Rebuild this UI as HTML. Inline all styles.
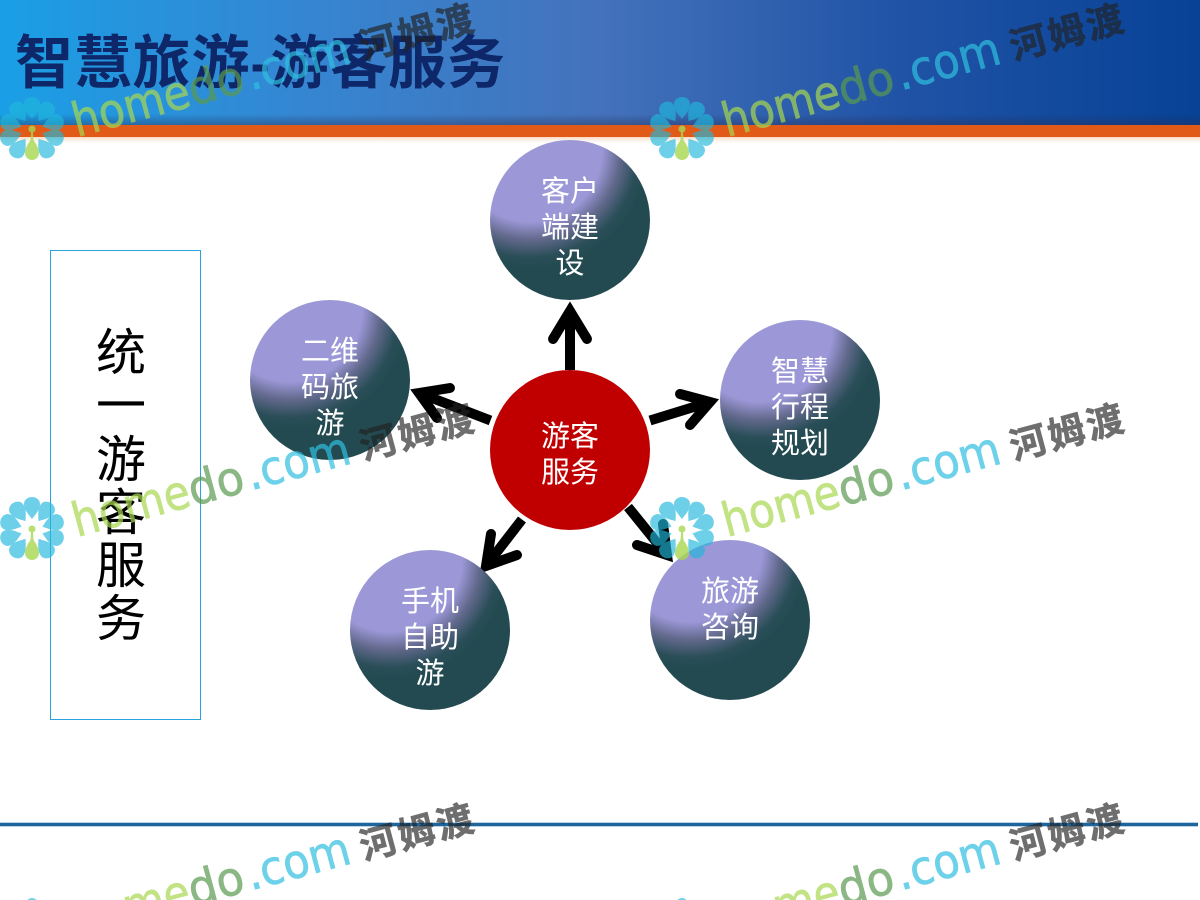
<!DOCTYPE html>
<html lang="zh"><head><meta charset="utf-8"><title>智慧旅游-游客服务</title>
<style>html,body{margin:0;padding:0;background:#fff;width:1200px;height:900px;overflow:hidden}svg{display:block}
text{font-family:"Liberation Sans","Noto Sans CJK SC",sans-serif}
.n{fill:#fff;font-size:29px;text-anchor:middle}
.v{fill:#000;font-size:50px;text-anchor:middle}
.w{font-size:47px;font-family:"DejaVu Sans",sans-serif;stroke-width:.8}
.h{fill:#a8d850;stroke:#a8d850;opacity:.7}.d{fill:#5a9a50;stroke:#5a9a50;opacity:.7}.c{fill:#30c0e0;stroke:#30c0e0;opacity:.7}
.z{fill:#222;stroke:#222;stroke-width:.6;opacity:.65;font-weight:700;font-size:37px}
</style></head><body>
<svg xmlns="http://www.w3.org/2000/svg" width="1200" height="900" viewBox="0 0 1200 900">
<defs>
<linearGradient id="hd" x1="0" x2="1" y1="0" y2="0"><stop offset="0" stop-color="#1a9fe6"/><stop offset=".25" stop-color="#3586d2"/><stop offset=".5" stop-color="#4472bb"/><stop offset=".75" stop-color="#2053a6"/><stop offset="1" stop-color="#074296"/></linearGradient>
<linearGradient id="hs" x1="0" x2="0" y1="0" y2="1"><stop offset="0" stop-color="#1a2a50" stop-opacity="0"/><stop offset="1" stop-color="#2a2a50" stop-opacity=".4"/></linearGradient>
<linearGradient id="os" x1="0" x2="0" y1="0" y2="1"><stop offset="0" stop-color="#f4b080" stop-opacity=".5"/><stop offset="1" stop-color="#fff" stop-opacity="0"/></linearGradient>
<radialGradient id="b" cx=".25" cy=".06" r=".75"><stop offset="0" stop-color="#9c98d8"/><stop offset=".6" stop-color="#9c98d8"/><stop offset=".75" stop-color="#62698c"/><stop offset=".9" stop-color="#2a4e58"/><stop offset="1" stop-color="#224a50"/></radialGradient>
<g id="fl">
<g fill="#20b8dc" opacity=".65">
<path d="M0,-11C-3,-15-8,-20-8,-26A8,7 0 0 1 8,-26C8,-20 3,-15 0,-11Z"/>
<path d="M0,-11C-3,-15-8,-20-8,-26A8,7 0 0 1 8,-26C8,-20 3,-15 0,-11Z" transform="rotate(36)"/>
<path d="M0,-11C-3,-15-8,-20-8,-26A8,7 0 0 1 8,-26C8,-20 3,-15 0,-11Z" transform="rotate(72)"/>
<path d="M0,-11C-3,-15-8,-20-8,-26A8,7 0 0 1 8,-26C8,-20 3,-15 0,-11Z" transform="rotate(108)"/>
<path d="M0,-11C-3,-15-8,-20-8,-26A8,7 0 0 1 8,-26C8,-20 3,-15 0,-11Z" transform="rotate(144)"/>
<path d="M0,-11C-3,-15-8,-20-8,-26A8,7 0 0 1 8,-26C8,-20 3,-15 0,-11Z" transform="rotate(216)"/>
<path d="M0,-11C-3,-15-8,-20-8,-26A8,7 0 0 1 8,-26C8,-20 3,-15 0,-11Z" transform="rotate(252)"/>
<path d="M0,-11C-3,-15-8,-20-8,-26A8,7 0 0 1 8,-26C8,-20 3,-15 0,-11Z" transform="rotate(288)"/>
<path d="M0,-11C-3,-15-8,-20-8,-26A8,7 0 0 1 8,-26C8,-20 3,-15 0,-11Z" transform="rotate(324)"/>
</g>
<g fill="#a8d850" opacity=".8"><circle cy="-1" r="3.5"/><path d="M-.8,0L.8,0L1.5,10C5,15 7,19 7,23A7,7 0 0 1 -7,23C-7,19-5,15-1.500,10Z"/></g>
</g>
</defs>
<rect width="1200" height="900" fill="#fff"/>
<rect width="1200" height="125" fill="url(#hd)"/>
<rect y="114" width="1200" height="11" fill="url(#hs)"/>
<rect y="125" width="1200" height="12" fill="#e25a18"/>
<rect y="137" width="1200" height="8" fill="url(#os)"/>
<text x="15" y="83" font-size="58" font-weight="700" fill="#0e2769" textLength="490">智慧旅游-游客服务</text>
<rect x="0" y="822" width="1198" height="5" fill="#3a80b8" opacity=".35"/>
<rect x="0" y="823" width="1198" height="3" fill="#1f659c"/>
<rect x="50.5" y="250.5" width="150" height="469" fill="#fff" stroke="#29a3de"/>
<text class="v" x="121" y="370">统</text><text class="v" x="121" y="423">一</text><text class="v" x="121" y="477">游</text><text class="v" x="121" y="530">客</text><text class="v" x="121" y="583">服</text><text class="v" x="121" y="636">务</text>

<g stroke="#000" stroke-width="10" fill="none">
<path d="M570,370V312M490.500,420.500L419,393M650,420.500L710,402M522,519.500L486,566M628,507L666,554"/>
<g stroke-linecap="round" stroke-linejoin="miter" stroke-miterlimit="6">
<polyline points="553,339 570,311 587,339"/>
<polyline points="450,388 419,393 437,418"/>
<polyline points="680,394 710,402 690,425"/>
<polyline points="491,534 486,566 517,555"/>
<polyline points="637,545 667,555 663,524"/>
</g></g>

<circle cx="570" cy="220" r="80" fill="url(#b)"/>
<circle cx="330" cy="380" r="80" fill="url(#b)"/>
<circle cx="800" cy="400" r="80" fill="url(#b)"/>
<circle cx="430" cy="630" r="80" fill="url(#b)"/>
<circle cx="730" cy="620" r="80" fill="url(#b)"/>
<circle cx="570" cy="450" r="80" fill="#c00000"/>

<text class="n" x="570" y="201">客户</text><text class="n" x="570" y="237">端建</text><text class="n" x="570" y="273">设</text>
<text class="n" x="330" y="361">二维</text><text class="n" x="330" y="397">码旅</text><text class="n" x="330" y="433">游</text>
<text class="n" x="800" y="381">智慧</text><text class="n" x="800" y="417">行程</text><text class="n" x="800" y="453">规划</text>
<text class="n" x="430" y="611">手机</text><text class="n" x="430" y="647">自助</text><text class="n" x="430" y="683">游</text>
<text class="n" x="730" y="601">旅游</text><text class="n" x="730" y="637">咨询</text>
<text class="n" x="570" y="446">游客</text><text class="n" x="570" y="482">服务</text>

<g transform="translate(0,0)"><use href="#fl" x="32" y="130"/><g transform="translate(77,137) rotate(-15)"><text class="w h" textLength="120" lengthAdjust="spacingAndGlyphs">home</text><text class="w d" x="120" textLength="56" lengthAdjust="spacingAndGlyphs">do</text><text class="w c" x="180" textLength="106" lengthAdjust="spacingAndGlyphs">.com</text><text class="z" x="297" y="0" textLength="116">河姆渡</text></g></g>
<g transform="translate(650,0)"><use href="#fl" x="32" y="130"/><g transform="translate(77,137) rotate(-15)"><text class="w h" textLength="120" lengthAdjust="spacingAndGlyphs">home</text><text class="w d" x="120" textLength="56" lengthAdjust="spacingAndGlyphs">do</text><text class="w c" x="180" textLength="106" lengthAdjust="spacingAndGlyphs">.com</text><text class="z" x="297" y="0" textLength="116">河姆渡</text></g></g>
<g transform="translate(0,400)"><use href="#fl" x="32" y="130"/><g transform="translate(77,137) rotate(-15)"><text class="w h" textLength="120" lengthAdjust="spacingAndGlyphs">home</text><text class="w d" x="120" textLength="56" lengthAdjust="spacingAndGlyphs">do</text><text class="w c" x="180" textLength="106" lengthAdjust="spacingAndGlyphs">.com</text><text class="z" x="297" y="0" textLength="116">河姆渡</text></g></g>
<g transform="translate(650,400)"><use href="#fl" x="32" y="130"/><g transform="translate(77,137) rotate(-15)"><text class="w h" textLength="120" lengthAdjust="spacingAndGlyphs">home</text><text class="w d" x="120" textLength="56" lengthAdjust="spacingAndGlyphs">do</text><text class="w c" x="180" textLength="106" lengthAdjust="spacingAndGlyphs">.com</text><text class="z" x="297" y="0" textLength="116">河姆渡</text></g></g>
<g transform="translate(0,800)"><g transform="translate(77,137) rotate(-15)"><text class="w h" textLength="120" lengthAdjust="spacingAndGlyphs">home</text><text class="w d" x="120" textLength="56" lengthAdjust="spacingAndGlyphs">do</text><text class="w c" x="180" textLength="106" lengthAdjust="spacingAndGlyphs">.com</text><text class="z" x="297" y="0" textLength="116">河姆渡</text></g></g>
<g transform="translate(650,800)"><g transform="translate(77,137) rotate(-15)"><text class="w h" textLength="120" lengthAdjust="spacingAndGlyphs">home</text><text class="w d" x="120" textLength="56" lengthAdjust="spacingAndGlyphs">do</text><text class="w c" x="180" textLength="106" lengthAdjust="spacingAndGlyphs">.com</text><text class="z" x="297" y="0" textLength="116">河姆渡</text></g></g>
<g transform="translate(32,930)"><circle cy="-26" r="6" fill="#20b8dc" opacity=".65"/></g>
<g transform="translate(682,930)"><circle cy="-26" r="6" fill="#20b8dc" opacity=".65"/></g>
</svg>
</body></html>
